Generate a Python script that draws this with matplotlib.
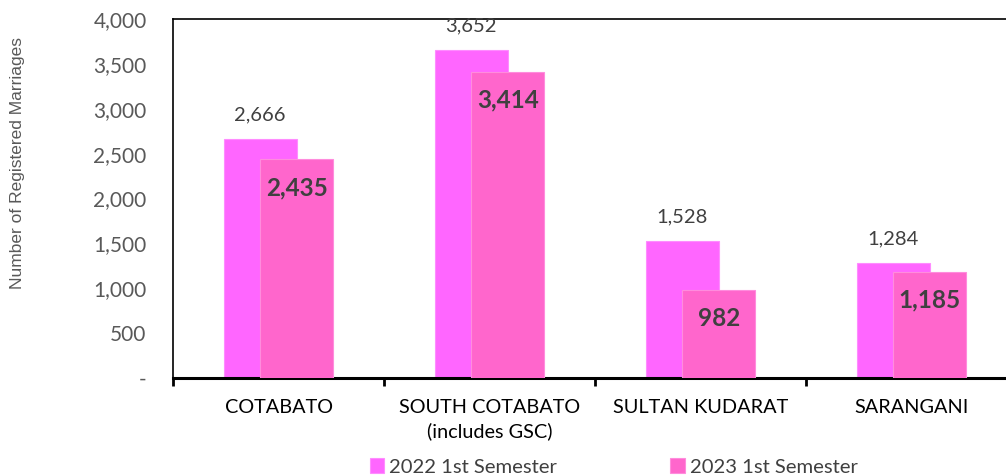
import numpy as np
import matplotlib
matplotlib.use("Agg")
import matplotlib.pyplot as plt
from matplotlib.ticker import FuncFormatter

categories = ["COTABATO", "SOUTH COTABATO\n(includes GSC)", "SULTAN KUDARAT", "SARANGANI"]
sem_2022 = [2666, 3652, 1528, 1284]
sem_2023 = [2435, 3414, 982, 1185]
series_names = ["2022 1st Semester", "2023 1st Semester"]

TEXT_GRAY = "#404040"
COLOR_2022 = "#FF66FF"
COLOR_2023 = "#FF66CC"

plt.rcParams["font.family"] = ["Lato", "DejaVu Sans"]

fig = plt.figure(figsize=(10.06, 4.76), dpi=100)
ax = fig.add_axes([0.172, 0.206, 0.839, 0.754])

x = np.arange(len(categories))
width = 0.346
offset = 0.087

b1 = ax.bar(x - offset, sem_2022, width, color=COLOR_2022, edgecolor="#FF8CFF",
            linewidth=0.8, label=series_names[0], zorder=2)
b2 = ax.bar(x + offset, sem_2023, width, color=COLOR_2023, edgecolor="#FF8CDD",
            linewidth=0.8, label=series_names[1], zorder=3)

for rect, v in zip(b1, sem_2022):
    ax.text(rect.get_x() + rect.get_width() / 2, v + 270, f"{v:,}",
            ha="center", va="center", fontsize=14.5, color=TEXT_GRAY, zorder=4)
for rect, v in zip(b2, sem_2023):
    ax.text(rect.get_x() + rect.get_width() / 2, v - 320, f"{v:,}",
            ha="center", va="center", fontsize=17.5, fontweight="bold",
            color=TEXT_GRAY, zorder=4)

ax.set_ylim(0, 4000)
ax.set_xlim(-0.5, 3.5)
ax.set_yticks(np.arange(0, 4001, 500))
ax.yaxis.set_major_formatter(FuncFormatter(lambda v, p: "-" if v == 0 else f"{int(v):,}"))
ax.tick_params(axis="y", length=0, pad=19, labelsize=15, labelcolor="#595959")

ax.set_xticks(x)
ax.set_xticklabels(categories, fontsize=14.3, color="black", linespacing=1.45)
ax.set_xticks(np.arange(-0.5, 4.0, 1.0), minor=True)
ax.tick_params(axis="x", which="major", length=0, pad=15)
ax.tick_params(axis="x", which="minor", length=6, width=2, direction="out", color="black")

for side in ["top", "left"]:
    ax.spines[side].set_linewidth(1.2)
    ax.spines[side].set_color("black")
ax.spines["bottom"].set_linewidth(2.2)
ax.spines["right"].set_visible(False)

fig.text(0.017, 0.657, "Number of Registered Marriages", rotation=90,
         ha="center", va="center", fontsize=12.5, color="#595959",
         family=["Liberation Sans", "DejaVu Sans"])

fig.legend(handles=[b1, b2], labels=series_names, loc="center",
           bbox_to_anchor=(0.61, 0.019), ncol=2, frameon=False, fontsize=14.6,
           handlelength=0.7, handleheight=0.7, handletextpad=0.25,
           columnspacing=5.6, labelcolor=TEXT_GRAY)

fig.savefig("out.png", dpi=100)
